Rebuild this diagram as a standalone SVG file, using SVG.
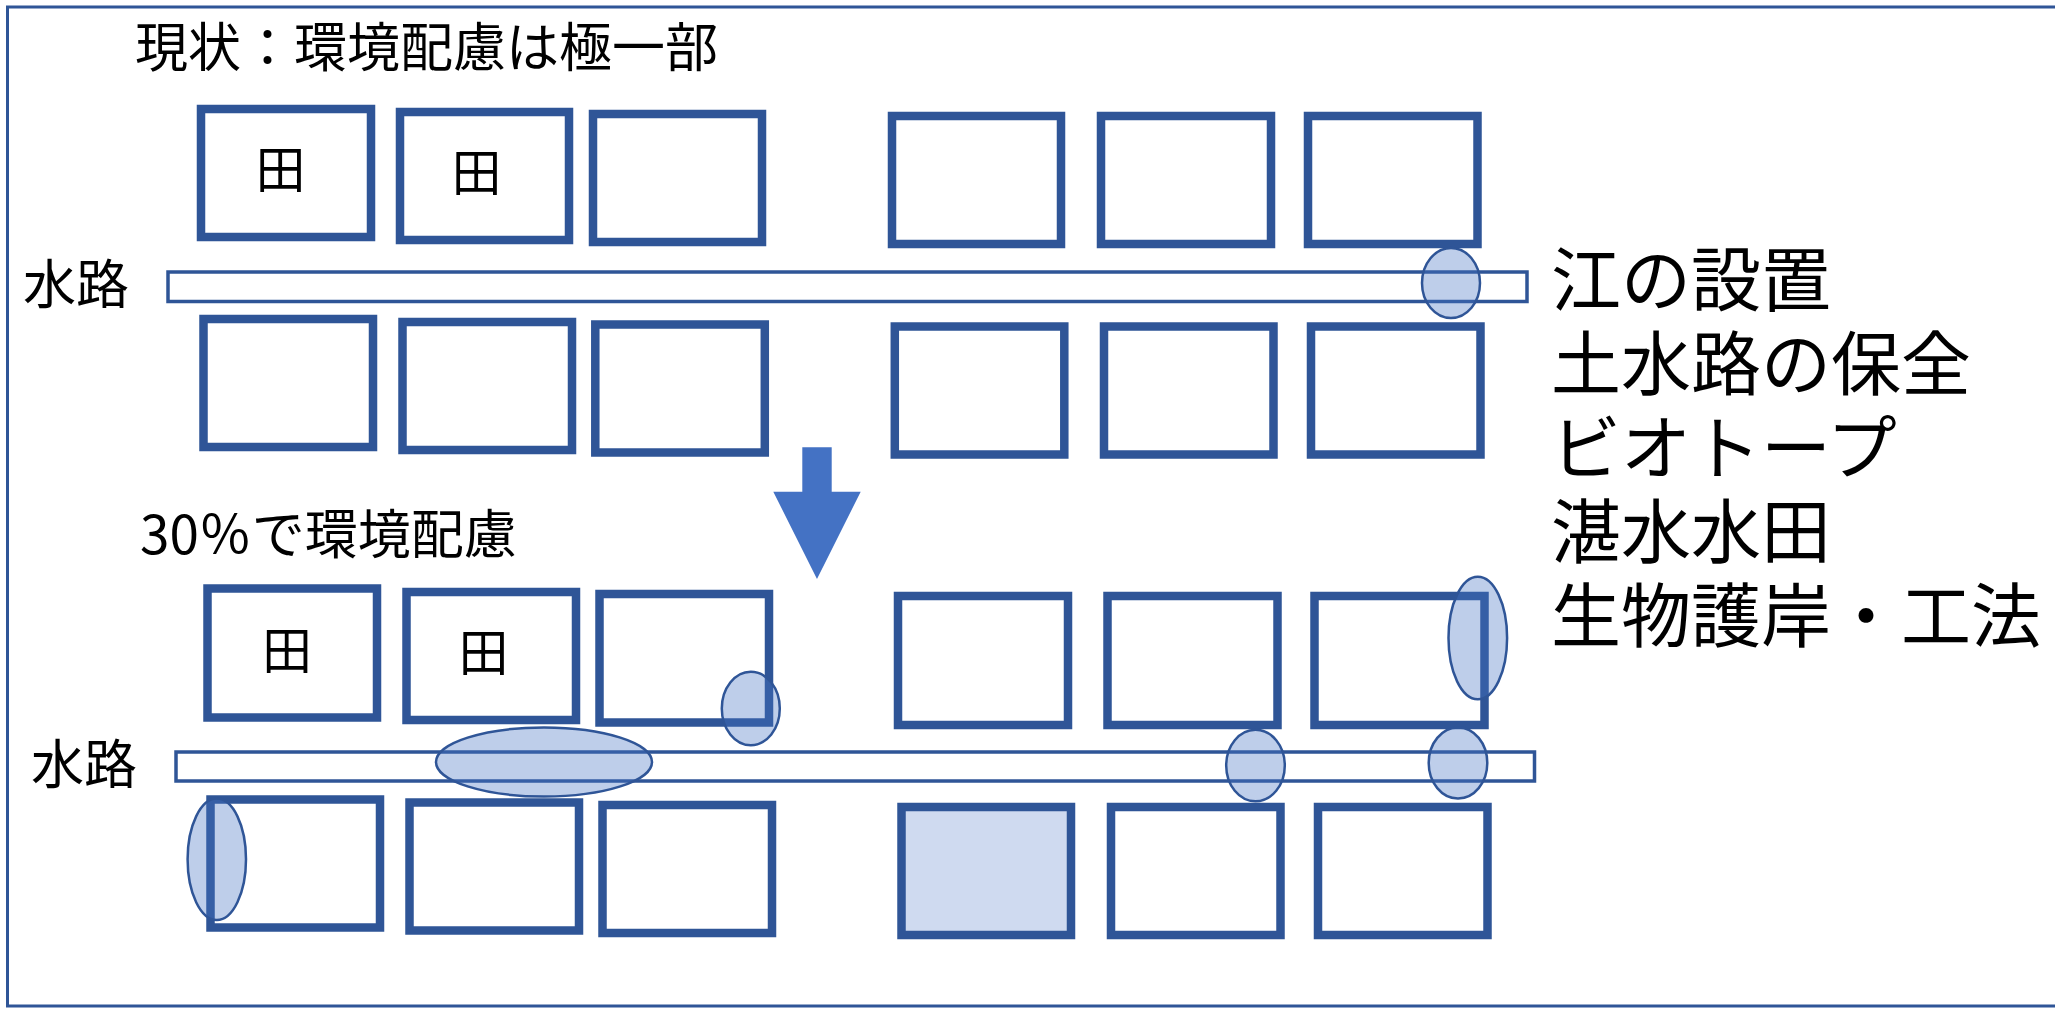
<svg xmlns="http://www.w3.org/2000/svg" width="2055" height="1009" viewBox="0 0 2055 1009">
<style>
.frame{fill:none;stroke:#2F5597;stroke-width:3}
.plot{fill:#FFFFFF;stroke:#2F5597;stroke-width:8.5}
.plot.hl{fill:#CFDAF0}
.canal{fill:#FFFFFF;stroke:#2F5597;stroke-width:3.5}
.eco{fill:#4472C4;fill-opacity:0.35;stroke:#2F5597;stroke-width:2.5}
.t{font-family:"Noto Sans CJK JP","Noto Sans CJK SC",sans-serif;fill:#000000}
.lbl{font-size:53px}
.rice{font-size:50px;text-anchor:middle}
.side{font-family:"Liberation Sans","Noto Sans CJK JP",sans-serif;font-size:70px;fill:#000000}
</style>
<rect width="2055" height="1009" fill="#FFFFFF"/>
<rect class="frame" x="7.5" y="7" width="2060" height="999"/>

<g id="title-now"><text class="t lbl" x="135" y="67">現状：環境配慮は極一部</text></g>
<g id="title-after"><text class="t lbl" x="140" y="554">30％で環境配慮</text></g>

<g id="side-list">
<text class="side" x="1551" y="306">江の設置</text>
<text class="side" x="1551" y="390">土水路の保全</text>
<text class="side" x="1551" y="474">ビオトープ</text>
<text class="side" x="1551" y="558">湛水水田</text>
<text class="side" x="1551" y="642">生物護岸・工法</text>
</g>

<!-- current state -->
<g id="now-canal">
<rect class="canal" x="168" y="272" width="1359" height="29.5"/>
<text class="t lbl" x="23" y="304">水路</text>
</g>
<g id="now-p1"><rect class="plot" x="201" y="109" width="170" height="128"/><text class="t rice" x="280.5" y="188">田</text></g>
<g id="now-p2"><rect class="plot" x="400" y="112" width="169" height="128"/><text class="t rice" x="476.5" y="191">田</text></g>
<g id="now-p3"><rect class="plot" x="593" y="114" width="169" height="128"/></g>
<g id="now-p4"><rect class="plot" x="892" y="116" width="169" height="128"/></g>
<g id="now-p5"><rect class="plot" x="1101" y="116" width="170" height="128"/></g>
<g id="now-p6"><rect class="plot" x="1308" y="116" width="169.5" height="128"/></g>
<g id="now-p7"><rect class="plot" x="203.5" y="319" width="169.5" height="128"/></g>
<g id="now-p8"><rect class="plot" x="402.5" y="322" width="169.5" height="128"/></g>
<g id="now-p9"><rect class="plot" x="595.3" y="324.5" width="169.5" height="128"/></g>
<g id="now-p10"><rect class="plot" x="894.8" y="326.5" width="169.5" height="128"/></g>
<g id="now-p11"><rect class="plot" x="1104" y="326.5" width="169.5" height="128"/></g>
<g id="now-p12"><rect class="plot" x="1311" y="326.5" width="169.5" height="128"/></g>
<g id="now-e1"><ellipse class="eco" cx="1451" cy="283" rx="29" ry="35"/></g>

<!-- after -->
<g id="after-canal">
<rect class="canal" x="176" y="752" width="1358.5" height="29"/>
<text class="t lbl" x="31" y="784">水路</text>
</g>
<g id="after-p1"><rect class="plot" x="207.5" y="588.5" width="169.5" height="129"/><text class="t rice" x="287" y="668.5">田</text></g>
<g id="after-p2"><rect class="plot" x="406.5" y="592" width="169.5" height="128"/><text class="t rice" x="483.5" y="671">田</text></g>
<g id="after-p3"><rect class="plot" x="599.5" y="594" width="169.5" height="128.5"/></g>
<g id="after-p4"><rect class="plot" x="898" y="596" width="170" height="129"/></g>
<g id="after-p5"><rect class="plot" x="1107.5" y="596" width="170" height="129"/></g>
<g id="after-p6"><rect class="plot" x="1314.5" y="596" width="170" height="129"/></g>
<g id="after-p7"><rect class="plot" x="210.5" y="799.5" width="169.5" height="128"/></g>
<g id="after-p8"><rect class="plot" x="409.5" y="802.5" width="169.5" height="128"/></g>
<g id="after-p9"><rect class="plot" x="602.5" y="805" width="169.5" height="128"/></g>
<g id="after-p10"><rect class="plot hl" x="901.5" y="807" width="169.5" height="128"/></g>
<g id="after-p11"><rect class="plot" x="1111" y="807" width="169.5" height="128"/></g>
<g id="after-p12"><rect class="plot" x="1318" y="807" width="169.5" height="128"/></g>
<g id="after-e-canal"><ellipse class="eco" cx="544" cy="762" rx="108" ry="34.5"/></g>
<g id="after-e-p3"><ellipse class="eco" cx="750.8" cy="708.5" rx="29" ry="36.7"/></g>
<g id="after-e-p7"><ellipse class="eco" cx="216.8" cy="859.3" rx="29.2" ry="60.7"/></g>
<g id="after-e-p6"><ellipse class="eco" cx="1477.8" cy="638" rx="29.3" ry="61.3"/></g>
<g id="after-e-c1"><ellipse class="eco" cx="1255.5" cy="765.5" rx="29.3" ry="35.7"/></g>
<g id="after-e-c2"><ellipse class="eco" cx="1458" cy="763" rx="29.3" ry="35.5"/></g>

<g id="connectors">
<polygon points="802.3,447.3 831.7,447.3 831.7,491.7 860.7,491.7 817,579 773.3,491.7 802.3,491.7" fill="#4472C4"/>
</g>
</svg>
